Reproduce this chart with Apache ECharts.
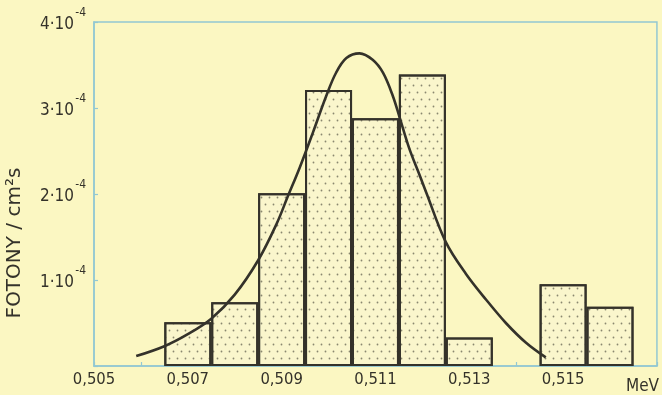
<!DOCTYPE html>
<html>
<head>
<meta charset="utf-8">
<script src="https://cdn.jsdelivr.net/npm/echarts@6/dist/echarts.min.js"></script>
<style>
html,body{margin:0;padding:0;background:#fbf7c2;}
#c{width:662px;height:395px;}
</style>
</head>
<body>
<div id="c"></div>
<script>
// Histogram bins (centre energy, MeV) and photon flux (units of 1e-4 photons / cm^2 s)
const binCenters = [0.507, 0.508, 0.509, 0.510, 0.511, 0.512, 0.513, 0.515, 0.516];
const binFlux    = [0.51, 0.74, 2.01, 3.21, 2.88, 3.39, 0.33, 0.95, 0.69];

// Fitted line profile
const curveEnergy = [0.5059, 0.5065, 0.5070, 0.5075, 0.5080, 0.5085, 0.50889, 0.50913, 0.50938, 0.50967,
                     0.50995, 0.51016, 0.51038, 0.51066, 0.51094, 0.51116, 0.51137, 0.51151, 0.51172, 0.51194,
                     0.51208, 0.51250, 0.51293, 0.51336, 0.51378, 0.51421, 0.51463];
const curveFlux   = [0.115, 0.23, 0.37, 0.55, 0.83, 1.23, 1.65, 1.97, 2.30, 2.72,
                     3.14, 3.41, 3.58, 3.635, 3.56, 3.41, 3.14, 2.90, 2.53, 2.22,
                     2.02, 1.44, 1.07, 0.77, 0.50, 0.27, 0.10];

const yTicks = [1, 2, 3, 4];   // labelled as n·10^-4
const xLabelled = [0.505, 0.507, 0.509, 0.511, 0.513, 0.515];

const ink = '#34322a';
const frame = '#93c8d2';
const font = '"DejaVu Sans Condensed", "DejaVu Sans", Roboto, sans-serif';

const chart = echarts.init(document.getElementById('c'));
chart.setOption({
  backgroundColor: '#fbf7c2',
  animation: false,
  grid: { left: 94, right: 4, top: 22, bottom: 25, show: true, borderColor: frame, borderWidth: 1.5, backgroundColor: 'transparent' },
  xAxis: {
    type: 'value', min: 0.505, max: 0.517, interval: 0.001,
    axisLine: { show: true, lineStyle: { color: frame, width: 1.5 } },
    axisTick: { show: true, inside: true, length: 4, lineStyle: { color: frame, width: 1.2 } },
    splitLine: { show: false },
    axisLabel: {
      margin: 5, color: ink, fontFamily: font, fontSize: 16.5,
      formatter: function (v) {
        for (const t of xLabelled) { if (Math.abs(t - v) < 1e-7) return t.toFixed(3).replace('.', ','); }
        return '';
      }
    },
    name: 'MeV', nameLocation: 'end', nameGap: -31,
    nameTextStyle: { color: ink, fontFamily: font, fontSize: 17, align: 'left', verticalAlign: 'top', padding: [12, 0, 0, 0] }
  },
  yAxis: {
    type: 'value', min: 0, max: 4, interval: 1,
    axisLine: { show: true, lineStyle: { color: frame, width: 1.5 } },
    axisTick: { show: true, inside: true, length: 4, lineStyle: { color: frame, width: 1.2 } },
    splitLine: { show: false },
    axisLabel: {
      margin: 8, color: ink, fontFamily: font,
      formatter: function (v) {
        const n = Math.round(v);
        if (yTicks.indexOf(n) < 0) return '';
        return '{b|-4}\n{a|' + n + '·10}{s|}';
      },
      rich: {
        a: { fontSize: 17, lineHeight: 18, color: ink, fontFamily: font },
        b: { fontSize: 12, lineHeight: 6, color: ink, fontFamily: font },
        s: { width: 12, lineHeight: 18 }
      }
    }
  },
  graphic: [{
    type: 'text', x: 15, y: 243, rotation: Math.PI / 2,
    style: { text: 'FOTONY / cm²s', fill: ink, font: '20px "DejaVu Sans", Roboto, sans-serif', textAlign: 'center', textVerticalAlign: 'middle' }
  }],
  series: [
    {
      type: 'bar', barWidth: 47,
      data: binCenters.map((x, i) => [x, binFlux[i]]),
      itemStyle: {
        color: '#faf6cc', borderColor: ink, borderWidth: 2,
        decal: { symbol: 'circle', symbolSize: 0.6, color: 'rgba(100,98,80,0.75)',
                 dashArrayX: [[3, 5], [0, 4, 3, 1]], dashArrayY: [3, 4] }
      },
      z: 2
    },
    {
      type: 'line', smooth: 0.35, symbol: 'none',
      data: curveEnergy.map((x, i) => [x, curveFlux[i]]),
      lineStyle: { color: ink, width: 2.6 },
      z: 5
    }
  ]
});
</script>
</body>
</html>
